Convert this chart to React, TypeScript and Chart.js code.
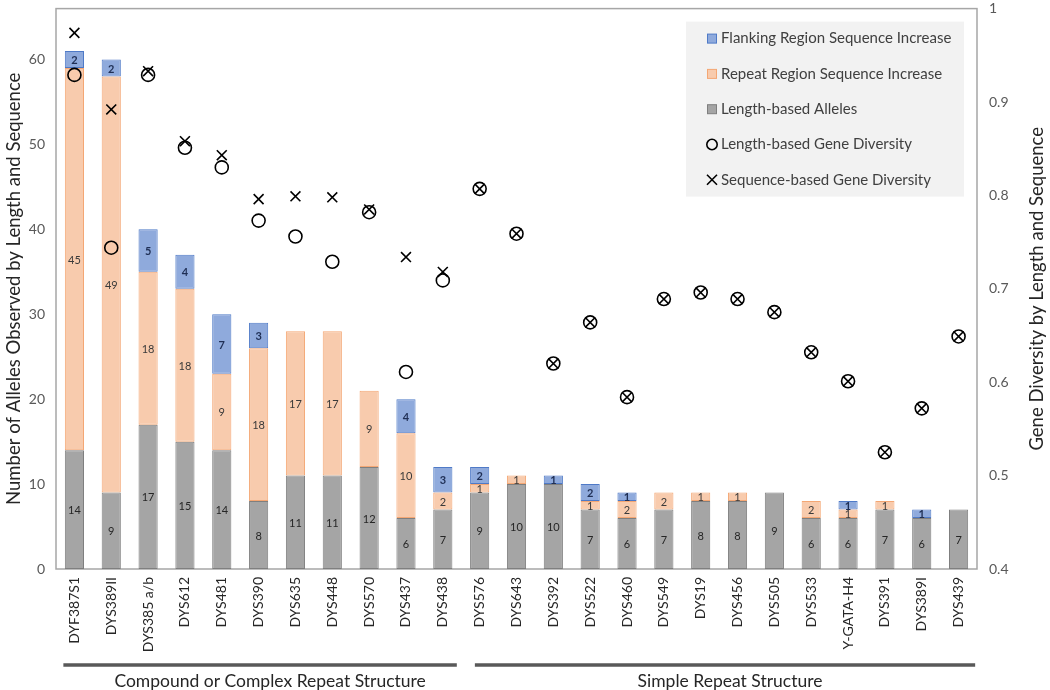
import React, { useEffect, useRef } from "react";
import { Chart, registerables } from "chart.js";

Chart.register(...registerables);

const categories = [
  "DYF387S1", "DYS389II", "DYS385 a/b", "DYS612", "DYS481", "DYS390", "DYS635", "DYS448",
  "DYS570", "DYS437", "DYS438", "DYS576", "DYS643", "DYS392", "DYS522", "DYS460",
  "DYS549", "DYS19", "DYS456", "DYS505", "DYS533", "Y-GATA-H4", "DYS391", "DYS389I", "DYS439",
];
const lengthAlleles = [14, 9, 17, 15, 14, 8, 11, 11, 12, 6, 7, 9, 10, 10, 7, 6, 7, 8, 8, 9, 6, 6, 7, 6, 7];
const repeatIncrease = [45, 49, 18, 18, 9, 18, 17, 17, 9, 10, 2, 1, 1, 0, 1, 2, 2, 1, 1, 0, 2, 1, 1, 0, 0];
const flankingIncrease = [2, 2, 5, 4, 7, 3, 0, 0, 0, 4, 3, 2, 0, 1, 2, 1, 0, 0, 0, 0, 0, 1, 0, 1, 0];
const lengthDiversity = [
  0.929, 0.744, 0.929, 0.851, 0.83, 0.773, 0.756, 0.729, 0.782, 0.611, 0.709, 0.807, 0.759,
  0.62, 0.664, 0.584, 0.689, 0.696, 0.689, 0.675, 0.632, 0.601, 0.525, 0.572, 0.649,
];
const sequenceDiversity = [
  0.974, 0.892, 0.933, 0.858, 0.843, 0.796, 0.799, 0.798, 0.785, 0.734, 0.718, 0.807, 0.759,
  0.62, 0.664, 0.584, 0.689, 0.696, 0.689, 0.675, 0.632, 0.601, 0.525, 0.572, 0.649,
];
const leftTitle = "Number of Alleles Observed by Length and Sequence";
const rightTitle = "Gene Diversity by Length and Sequence";
const groupNames = ["Compound or Complex Repeat Structure", "Simple Repeat Structure"];
const groupRanges = [[0, 10], [11, 24]];

const FONT = "Lato, 'Open Sans', 'Noto Sans', sans-serif";

const boxPlugin = {
  id: "boxPlugin",
  beforeDatasetsDraw(chart: any) {
    const { ctx, chartArea } = chart;
    ctx.save();
    ctx.strokeStyle = "#a6a6a6";
    ctx.lineWidth = 1.5;
    ctx.strokeRect(chartArea.left, chartArea.top, chartArea.right - chartArea.left, chartArea.bottom - chartArea.top);
    ctx.restore();
  },
};

const labelPlugin = {
  id: "labelPlugin",
  afterDatasetsDraw(chart: any) {
    const { ctx } = chart;
    ctx.save();
    ctx.textAlign = "center";
    ctx.textBaseline = "middle";
    chart.data.datasets.forEach((ds: any, i: number) => {
      if (ds.type === "line") return;
      const meta = chart.getDatasetMeta(i);
      meta.data.forEach((el: any, j: number) => {
        const v = ds.data[j];
        if (!v) return;
        const cy = (el.y + el.base) / 2;
        ctx.fillStyle = ds.labelColor;
        ctx.font = `${ds.labelWeight} 11px ${FONT}`;
        ctx.fillText(String(v), el.x, cy + 1);
      });
    });
    ctx.restore();
  },
};

const extrasPlugin = {
  id: "extrasPlugin",
  afterDraw(chart: any) {
    const { ctx, chartArea, scales } = chart;
    const xs = scales.x;
    const w = (xs.getPixelForValue(1) - xs.getPixelForValue(0));
    ctx.save();
    // right axis title
    ctx.fillStyle = "#262626";
    ctx.font = `18.5px ${FONT}`;
    ctx.textAlign = "center";
    ctx.textBaseline = "middle";
    ctx.translate(1037, (chartArea.top + chartArea.bottom) / 2);
    ctx.rotate(-Math.PI / 2);
    ctx.fillText(rightTitle, 0, 0);
    ctx.restore();

    // group brackets
    ctx.save();
    const lineY = chartArea.bottom + 96;
    const offs = [[-0.3, 0.38], [-0.13, 0.45]];
    const textShift = [10, 5];
    groupRanges.forEach((r, gi) => {
      const x0 = xs.getPixelForValue(r[0]) + offs[gi][0] * w;
      const x1 = xs.getPixelForValue(r[1]) + offs[gi][1] * w;
      ctx.strokeStyle = "#595959";
      ctx.lineWidth = 3.5;
      ctx.beginPath();
      ctx.moveTo(x0, lineY);
      ctx.lineTo(x1, lineY);
      ctx.stroke();
      ctx.fillStyle = "#262626";
      ctx.font = `17.5px ${FONT}`;
      ctx.textAlign = "center";
      ctx.textBaseline = "middle";
      ctx.fillText(groupNames[gi], (x0 + x1) / 2 + textShift[gi], lineY + 16);
    });
    ctx.restore();

    // legend
    ctx.save();
    const bx = chartArea.right - 291;
    const by = chartArea.top + 13;
    ctx.fillStyle = "#f2f2f2";
    ctx.fillRect(bx, by, 278, 175);
    const items = [4, 3, 2, 0, 1];
    items.forEach((di, k) => {
      const ds = chart.data.datasets[di];
      const cy = by + 17 + k * 35.3;
      const mx = bx + 26;
      if (ds.type === "line") {
        ctx.strokeStyle = "#000";
        ctx.lineWidth = 1.6;
        if (ds.pointStyle === "circle") {
          ctx.beginPath();
          ctx.arc(mx, cy, 5.2, 0, Math.PI * 2);
          ctx.stroke();
        } else {
          ctx.beginPath();
          ctx.moveTo(mx - 5, cy - 5);
          ctx.lineTo(mx + 5, cy + 5);
          ctx.moveTo(mx + 5, cy - 5);
          ctx.lineTo(mx - 5, cy + 5);
          ctx.stroke();
        }
      } else {
        ctx.fillStyle = ds.backgroundColor;
        ctx.fillRect(mx - 4.5, cy - 4.5, 9, 9);
        ctx.strokeStyle = ds.borderColor;
        ctx.lineWidth = 1;
        ctx.strokeRect(mx - 4.5, cy - 4.5, 9, 9);
      }
      ctx.fillStyle = "#404040";
      ctx.font = `15px ${FONT}`;
      ctx.textAlign = "left";
      ctx.textBaseline = "middle";
      ctx.fillText(ds.label, mx + 9, cy);
    });
    ctx.restore();
  },
};

export default function App() {
  const ref = useRef<HTMLCanvasElement>(null);
  useEffect(() => {
    if (!ref.current) return;
    const chart = new Chart(ref.current, {
      type: "bar",
      data: {
        labels: categories,
        datasets: [
          {
            type: "line",
            label: "Length-based Gene Diversity",
            data: lengthDiversity,
            yAxisID: "y1",
            showLine: false,
            pointStyle: "circle",
            pointRadius: 6.5,
            pointBorderWidth: 1.6,
            pointBorderColor: "#000",
            pointBackgroundColor: "rgba(0,0,0,0)",
            borderColor: "#000",
            order: 0,
          } as any,
          {
            type: "line",
            label: "Sequence-based Gene Diversity",
            data: sequenceDiversity,
            yAxisID: "y1",
            showLine: false,
            pointStyle: "crossRot",
            pointRadius: 7,
            pointBorderWidth: 1.6,
            pointBorderColor: "#000",
            pointBackgroundColor: "rgba(0,0,0,0)",
            borderColor: "#000",
            order: 0,
          } as any,
          {
            label: "Length-based Alleles",
            data: lengthAlleles,
            backgroundColor: "#a5a5a5",
            borderColor: "#7f7f7f",
            borderWidth: 1,
            borderSkipped: false,
            yAxisID: "y",
            order: 1,
            labelColor: "#262626",
            labelWeight: "normal",
          } as any,
          {
            label: "Repeat Region Sequence Increase",
            data: repeatIncrease,
            backgroundColor: "#f8cbad",
            borderColor: "#f4a774",
            borderWidth: 1,
            borderSkipped: false,
            yAxisID: "y",
            order: 1,
            labelColor: "#3a3a3a",
            labelWeight: "normal",
          } as any,
          {
            label: "Flanking Region Sequence Increase",
            data: flankingIncrease,
            backgroundColor: "#8faadc",
            borderColor: "#4f7ac7",
            borderWidth: 1,
            borderSkipped: false,
            yAxisID: "y",
            order: 1,
            labelColor: "#1f2f55",
            labelWeight: "bold",
          } as any,
        ],
      },
      options: {
        responsive: false,
        animation: false,
        layout: { padding: { top: 7, left: 0, right: 0, bottom: 0 } },
        datasets: { bar: { barPercentage: 0.52, categoryPercentage: 1 } },
        plugins: { legend: { display: false }, tooltip: { enabled: false } },
        scales: {
          x: {
            stacked: true,
            grid: { display: false, drawTicks: false },
            border: { display: false },
            ticks: {
              color: "#262626",
              font: { size: 14, family: FONT },
              minRotation: 90,
              maxRotation: 90,
              autoSkip: false,
              padding: 8,
            },
            afterFit: (s: any) => { s.height = 121; s.paddingLeft = 0; s.paddingRight = 0; },
          },
          y: {
            stacked: true,
            min: 0,
            max: 66,
            grid: { display: false, drawTicks: false },
            border: { display: false },
            ticks: { stepSize: 10, includeBounds: false, color: "#595959", font: { size: 14, family: FONT }, padding: 11 },
            title: { display: true, text: leftTitle, color: "#262626", font: { size: 18.5, family: FONT }, padding: { top: 3, bottom: 0 } },
            afterFit: (s: any) => { s.width = 56; s.paddingTop = 0; s.paddingBottom = 0; },
          },
          y1: {
            position: "right",
            min: 0.4,
            max: 1.0,
            grid: { display: false, drawTicks: false },
            border: { display: false },
            ticks: {
              stepSize: 0.1,
              color: "#595959",
              font: { size: 14, family: FONT },
              padding: 12,
              callback: (v: any) => String(Number(Number(v).toFixed(1))),
            },
            afterFit: (s: any) => { s.width = 73; s.paddingTop = 0; s.paddingBottom = 0; },
          },
        },
      } as any,
      plugins: [boxPlugin, labelPlugin, extrasPlugin],
    });
    return () => chart.destroy();
  }, []);
  return (
    <div style={{ position: "fixed", left: 0, top: 0, width: 1050, height: 690, background: "#fff" }}>
      <canvas ref={ref} width={1050} height={690} style={{ display: "block" }} />
    </div>
  );
}
